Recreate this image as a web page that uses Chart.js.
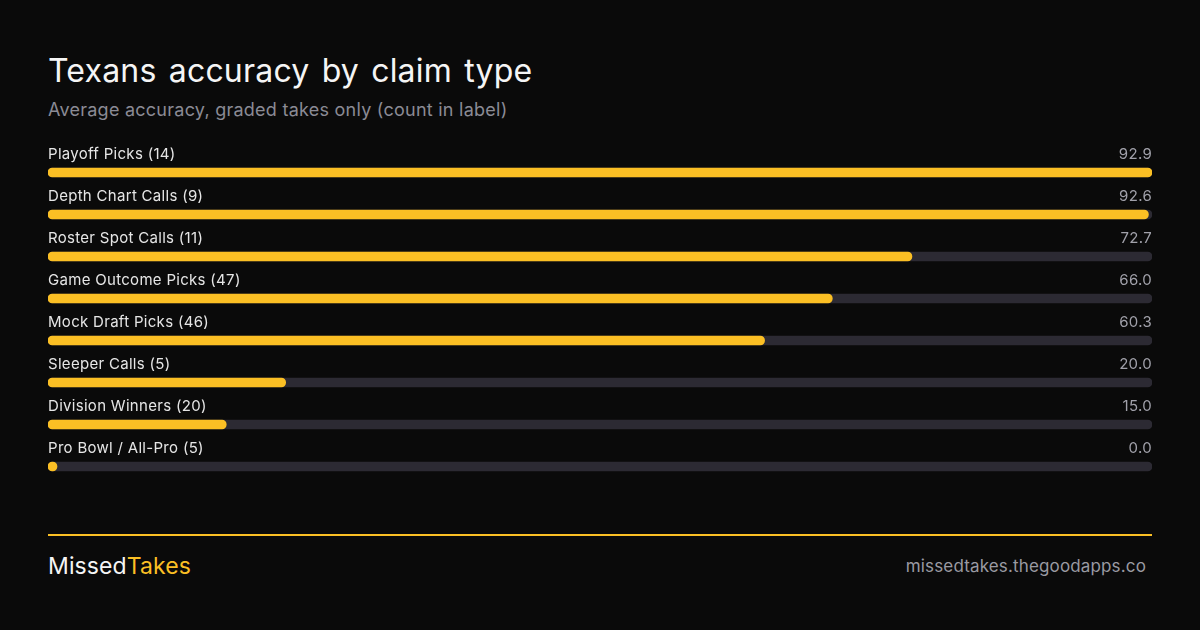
<!DOCTYPE html>
<html><head><meta charset="utf-8">
<script src="https://cdn.jsdelivr.net/npm/chart.js@4.4.1/dist/chart.umd.min.js"></script>
<style>
html,body{margin:0;padding:0;background:#0a0a0a;width:1200px;height:630px;overflow:hidden;font-family:Inter,"Noto Sans",sans-serif;}
#title{position:absolute;left:48px;top:51px;font-size:32px;color:#f5f5f5;font-weight:400;letter-spacing:0.2px;word-spacing:3px;}
#sub{position:absolute;left:48px;top:99px;font-size:18px;color:#8b8b95;letter-spacing:0.25px;}
#wrap{position:absolute;left:48px;top:130px;width:1104px;height:370px;}
#rule{position:absolute;left:48px;top:534px;width:1104px;height:2px;background:#fbbf24;}
#brand{position:absolute;left:48px;top:552px;font-size:23px;color:#f5f5f5;letter-spacing:0.1px;}
#brand span{color:#fbbf24;}
#url{position:absolute;right:54px;top:556px;font-size:17px;color:#9a9aa2;letter-spacing:0.15px;}
</style></head><body>
<div id="title">Texans accuracy by claim type</div>
<div id="sub">Average accuracy, graded takes only (count in label)</div>
<div id="wrap"><canvas id="c"></canvas></div>
<div id="rule"></div>
<div id="brand">Missed<span>Takes</span></div>
<div id="url">missedtakes.thegoodapps.co</div>
<script>
const categories = ["Playoff Picks (14)","Depth Chart Calls (9)","Roster Spot Calls (11)","Game Outcome Picks (47)","Mock Draft Picks (46)","Sleeper Calls (5)","Division Winners (20)","Pro Bowl / All-Pro (5)"];
const accuracy = [92.9,92.6,72.7,66.0,60.3,20.0,15.0,0.0];
const scaleMax = Math.max(...accuracy);
const track = categories.map(() => scaleMax);

const labelPlugin = {
  id:'rowLabels',
  afterDatasetsDraw(chart){
    const ctx = chart.ctx;
    const meta = chart.getDatasetMeta(0);
    const area = chart.chartArea;
    ctx.save();
    ctx.font = '15px Inter, "Noto Sans", sans-serif';
    ctx.letterSpacing = '0.3px';
    ctx.textBaseline = 'alphabetic';
    meta.data.forEach((bar,i)=>{
      const y = bar.y - 14;
      ctx.fillStyle = '#e6e6e6';
      ctx.textAlign = 'left';
      ctx.fillText(categories[i], area.left, y);
      ctx.fillStyle = '#a1a1aa';
      ctx.textAlign = 'right';
      ctx.fillText(accuracy[i].toFixed(1), area.right, y);
    });
    ctx.restore();
  }
};

new Chart(document.getElementById('c'),{
  type:'bar',
  data:{labels:categories,datasets:[
    {data:accuracy,backgroundColor:'#fbbf24',borderRadius:5,borderSkipped:false,barThickness:9,minBarLength:9,grouped:false,order:0},
    {data:track,backgroundColor:'#2c2a33',borderRadius:5,borderSkipped:false,barThickness:9,grouped:false,order:1}
  ]},
  options:{
    indexAxis:'y',responsive:true,maintainAspectRatio:false,animation:false,
    layout:{padding:{top:21.5,bottom:12.5,left:0,right:0}},
    plugins:{legend:{display:false},tooltip:{enabled:false}},
    scales:{
      x:{min:0,max:scaleMax,display:false},
      y:{display:false,offset:true}
    }
  },
  plugins:[labelPlugin]
});
</script>
</body></html>
